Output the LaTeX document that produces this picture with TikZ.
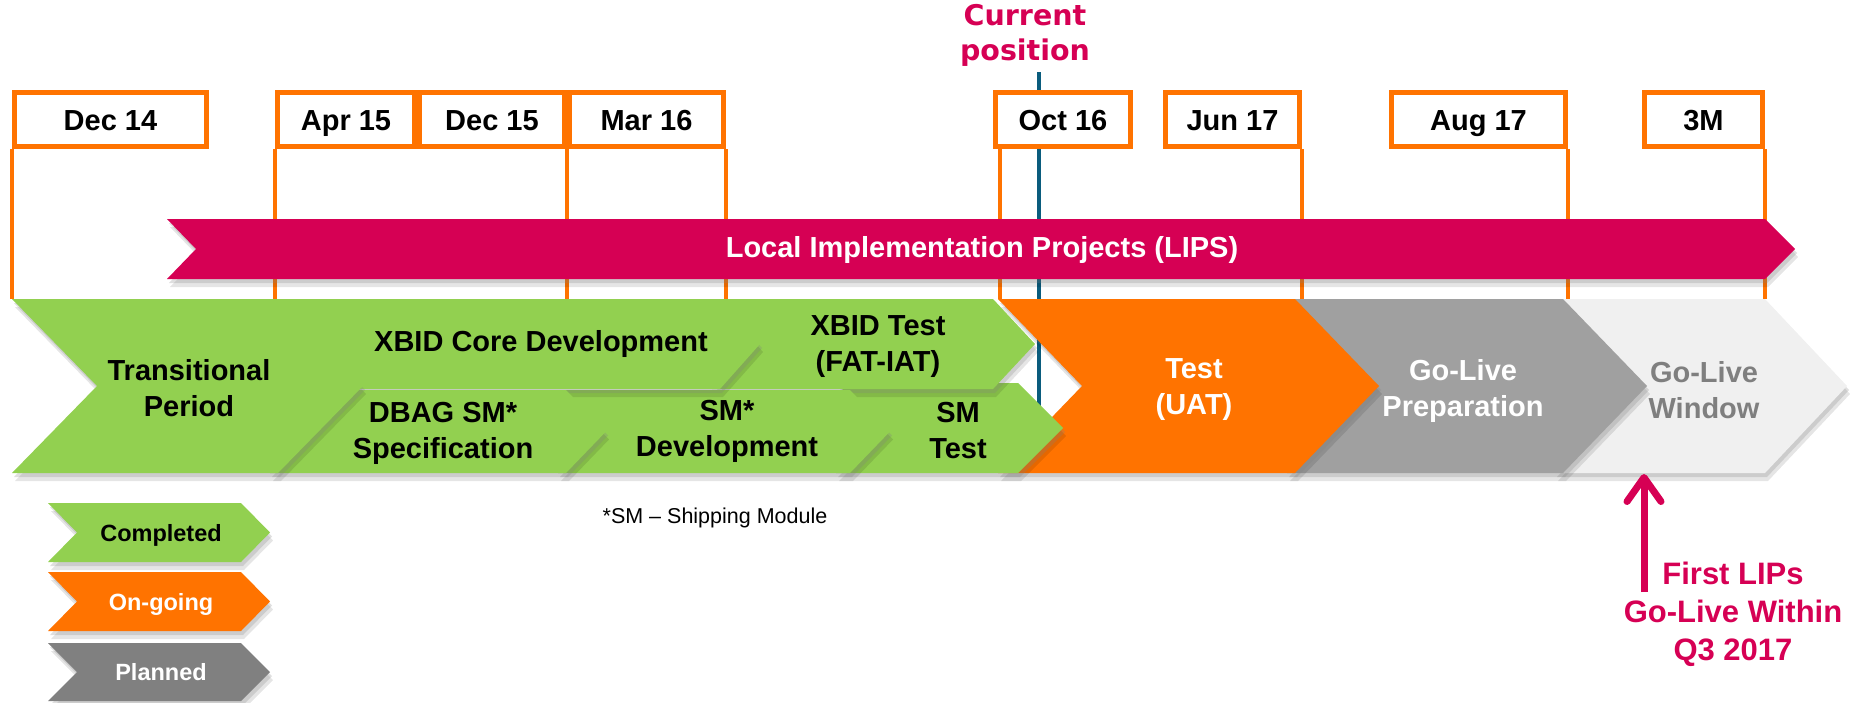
\documentclass[tikz,border=0pt]{standalone}
\usepackage{fontspec}
\setmainfont{Liberation Sans}
\newfontfamily\dvfont{DejaVu Sans}
\usetikzlibrary{arrows.meta,shadows}
\definecolor{cOrange}{RGB}{255,115,0}
\definecolor{cGreen}{RGB}{146,208,80}
\definecolor{cMag}{RGB}{214,0,84}
\definecolor{cGray}{RGB}{160,160,160}
\definecolor{cLight}{RGB}{240,240,240}
\definecolor{cPlan}{RGB}{128,128,128}
\definecolor{cBlue}{RGB}{10,92,125}
\definecolor{cWinTxt}{RGB}{127,127,127}
\newcommand\chevshape[6]{%
  \fill[#1,shp] (#2,#4) -- (#3,#4) -- ({#3+#6},{(#4+#5)/2}) -- (#3,#5) -- (#2,#5) -- ({#2+#6},{(#4+#5)/2}) -- cycle;}
\begin{document}
\begin{tikzpicture}[x=1pt,y=-1pt,
  datebox/.style={draw=cOrange, line width=5pt, fill=white, minimum height=54pt, inner sep=0pt, text height=21pt, text depth=0pt, font=\fontsize{29}{34}\selectfont\bfseries},
  dline/.style={cOrange, line width=4pt},
  shp/.style={preaction={fill=black,opacity=0.10,transform canvas={xshift=3pt,yshift=-8pt}},
              drop shadow={shadow xshift=2pt,shadow yshift=-4pt,opacity=0.25}},
  lbl/.style={align=center, font=\fontsize{29}{36}\selectfont\bfseries, inner sep=0pt},
  leg/.style={align=center, font=\fontsize{23.5}{28}\selectfont\bfseries, inner sep=0pt, text height=17pt, text depth=0pt},
]
\useasboundingbox (0,0) rectangle (1856,702);
% current position line (behind everything)
\coordinate (cur1) at (1039,72);
\coordinate (cur2) at (1039,413);
\draw[cBlue, line width=4.5pt] (cur1) -- (cur2);
% date boxes
\node[datebox, minimum width=192pt] (d14) at (110.5,119.5) {Dec 14};
\node[datebox, minimum width=137pt] (a15) at (346,119.5) {Apr 15};
\node[datebox, minimum width=145pt] (dc15) at (492,119.5) {Dec 15};
\node[datebox, minimum width=154pt] (m16) at (646.5,119.5) {Mar 16};
\node[datebox, minimum width=135pt] (o16) at (1063,119.5) {Oct 16};
\node[datebox, minimum width=134pt] (j17) at (1232.5,119.5) {Jun 17};
\node[datebox, minimum width=174pt] (au17) at (1478.5,119.5) {Aug 17};
\node[datebox, minimum width=118pt] (m3) at (1703.5,119.5) {3M};
\coordinate (rowtop) at (0,299);
\draw[dline] (d14.south west) -- (d14.south west |- rowtop);
\draw[dline] (a15.south west) -- (a15.south west |- rowtop);
\draw[dline] (dc15.south east) -- (dc15.south east |- rowtop);
\draw[dline] (m16.south east) -- (m16.south east |- rowtop);
\draw[dline] ([xshift=7pt]o16.south west) -- ([xshift=7pt]o16.south west |- rowtop);
\draw[dline] (j17.south east) -- (j17.south east |- rowtop);
\draw[dline] (au17.south east) -- (au17.south east |- rowtop);
\draw[dline] (m3.south east) -- (m3.south east |- rowtop);
% LIPS banner
\fill[cMag,shp] (167,219) -- (1765,219) -- (1795,249) -- (1765,279) -- (167,279) -- (196,249) -- cycle;
\node[lbl, text=white] (lips) at (982,250) {Local Implementation Projects (LIPS)};
% phase shapes, bottom to top
\chevshape{cLight}{1555}{1765}{299}{473}{82}
\chevshape{cGray}{1287}{1563}{299}{473}{84}
\chevshape{cOrange}{998}{1295}{299}{473}{84}
\chevshape{cGreen}{836}{1018}{383}{473}{45}
\chevshape{cGreen}{712}{993}{299}{389}{42}
\chevshape{cGreen}{558}{850}{390}{473}{40}
\chevshape{cGreen}{270}{720}{299}{389}{40}
\chevshape{cGreen}{270}{566}{390}{473}{40}
\chevshape{cGreen}{12}{278}{299}{473}{85}
% labels
\node[lbl] (tp) at (189,388) {Transitional\\Period};
\node[lbl] (xcd) at (541,344) {XBID Core Development};
\node[lbl] (xt) at (878,347) {XBID Test\\(FAT-IAT)};
\node[lbl] (dbag) at (443,433) {DBAG SM*\\Specification};
\node[lbl] (smd) at (727,431) {SM*\\Development};
\node[lbl] (smt) at (958,431) {SM\\Test};
\node[lbl, text=white] (uat) at (1194,390) {Test\\(UAT)};
\node[lbl, text=white] (glp) at (1463,391) {Go-Live\\Preparation};
\node[lbl, text=cWinTxt] (glw) at (1704,390) {Go-Live\\Window};
% current position
\node[align=center, text=cMag, inner sep=0pt, font=\dvfont\bfseries\fontsize{28.5}{35}\selectfont] (cur) at (1025,35) {Current\\position};
% footnote
\node[inner sep=0pt, font=\fontsize{21.5}{26}\selectfont] (note) at (715,518) {*SM -- Shipping Module};
% legend
\chevshape{cGreen}{48}{241}{503}{562}{29}
\chevshape{cOrange}{48}{241}{572}{631}{29}
\chevshape{cPlan}{48}{241}{643}{701}{29}
\node[leg] (lc) at (161,533) {Completed};
\node[leg, text=white] (lo) at (161,602) {On-going};
\node[leg, text=white] (lp) at (161,672) {Planned};
% first LIPs
\node[align=center, text=cMag, inner sep=0pt, font=\fontsize{31}{38}\selectfont\bfseries] (first) at (1733,614) {First LIPs\\Go-Live Within\\Q3 2017};
\coordinate (arrbase) at (1644,592);
\coordinate (arrtip) at (1644,474);
\draw[cMag, line width=7pt, -{Straight Barb[length=24pt,width=34pt,round]}] (arrbase) -- (arrtip);
\end{tikzpicture}
\end{document}
